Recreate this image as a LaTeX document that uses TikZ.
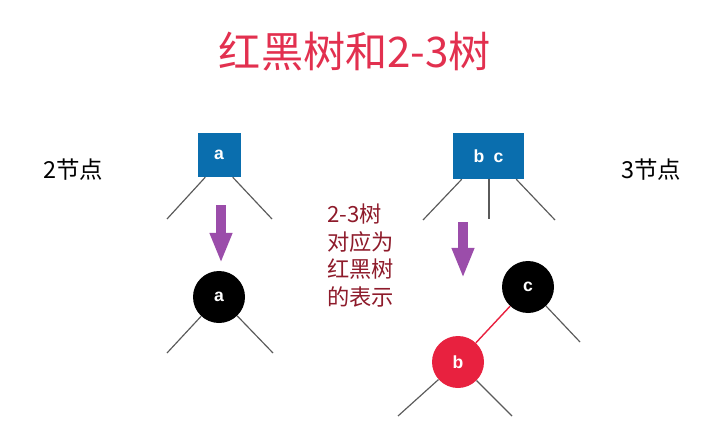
\documentclass[tikz,border=0pt]{standalone}
\usepackage{fontspec}
\setmainfont{Liberation Sans}
\newfontfamily\cjk{Noto Sans CJK SC}
\usetikzlibrary{arrows.meta}
\definecolor{titlered}{HTML}{E2304F}
\definecolor{rbred}{HTML}{E8213F}
\definecolor{boxblue}{HTML}{0A6EAE}
\definecolor{arrowpurple}{HTML}{9B4DAA}
\definecolor{notered}{HTML}{8E1B2B}
\definecolor{leafgray}{HTML}{5A5A5A}

\begin{document}
\begin{tikzpicture}[x=0.03cm,y=-0.03cm,
    keybox/.style={fill=boxblue,text=white,font=\bfseries\fontsize{15}{15}\selectfont,inner sep=0pt},
    blacknode/.style={circle,fill=black,text=white,minimum size=1.56cm,inner sep=0pt,font=\bfseries\fontsize{15}{15}\selectfont},
    rednode/.style={blacknode,fill=rbred},
    leaf/.style={draw=leafgray,line width=1pt},
    turn/.style={arrowpurple,line width=0.3cm,-{Triangle[width=0.62cm,length=0.9cm]}}]
    \useasboundingbox (0,0) rectangle (726,426);
    % title and side labels
    \node[text=titlered,font=\cjk\fontsize{36}{36}\selectfont] (T0) at (355,52) {红黑树和2-3树};
    \node[font=\cjk\fontsize{20}{20}\selectfont] (T1) at (73,170) {2节点};
    \node[font=\cjk\fontsize{20}{20}\selectfont] (T2) at (651,170) {3节点};
    \node[anchor=north west,align=left,inner sep=0pt,text=notered,font=\cjk\fontsize{19}{23.5}\selectfont] (T3) at (327,204)
        {2-3树\\对应为\\红黑树\\的表示};
    % 2-node
    \node[keybox,minimum width=1.29cm,minimum height=1.32cm] (N0) at (219,155) {a};
    \coordinate (L0) at (167,219);
    \coordinate (L1) at (272,219);
    \path (N0.south west) ++(8,0) coordinate (S0) (N0.south east) ++(-8,0) coordinate (S1);
    \path[leaf] (S0) edge (L0) (S1) edge (L1);
    \node[blacknode] (N1) at (219,297) {a};
    \coordinate (L2) at (167,353);
    \coordinate (L3) at (273,353);
    \path[leaf] (N1) edge (L2) (N1) edge (L3);
    \coordinate (A0) at (221,205);
    \coordinate (A1) at (221,263);
    \draw[turn] (A0) -- (A1);
    % 3-node
    \node[keybox,minimum width=2.13cm,minimum height=1.38cm] (N2) at (488.5,156) {b\hspace{0.28cm}c};
    \coordinate (L4) at (423,220);
    \coordinate (L5) at (489,219);
    \coordinate (L6) at (555,220);
    \path (N2.south west) ++(9,0) coordinate (S2) (N2.south) ++(0.5,0) coordinate (S3) (N2.south east) ++(-8,0) coordinate (S4);
    \path[leaf] (S2) edge (L4) (S3) edge (L5) (S4) edge (L6);
    \node[blacknode] (N3) at (528,287) {c};
    \node[rednode] (N4) at (458,362) {b};
    \path[draw=rbred,line width=1.2pt] (N3) edge (N4);
    \coordinate (L7) at (580,342);
    \coordinate (L8) at (398,416);
    \coordinate (L9) at (512,416);
    \path[leaf] (N3) edge (L7) (N4) edge (L8) (N4) edge (L9);
    \coordinate (A2) at (463,222);
    \coordinate (A3) at (463,278);
    \draw[turn] (A2) -- (A3);
\end{tikzpicture}
\end{document}
